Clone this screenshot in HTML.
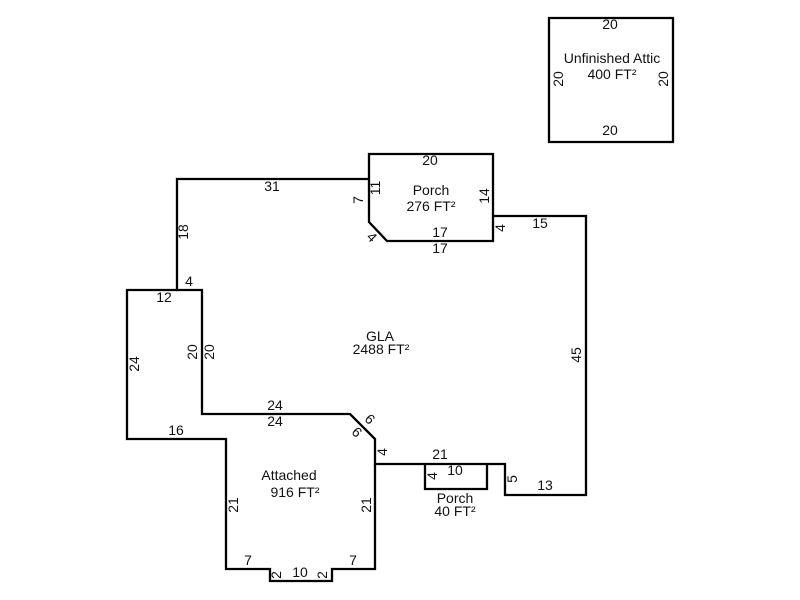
<!DOCTYPE html>
<html><head><meta charset="utf-8"><style>
html,body{margin:0;padding:0;background:#fff}
svg{display:block}
text{font-family:"Liberation Sans",Arial,sans-serif;font-size:14px;fill:#111;text-anchor:middle}
path{fill:none;stroke:#000;stroke-width:2.3;stroke-linejoin:miter}
</style></head><body>
<svg width="800" height="600" viewBox="0 0 800 600" xmlns="http://www.w3.org/2000/svg">
<path d="M549 18H673V142H549Z"/>
<path d="M369 154H493V241H387L369 222Z"/>
<path d="M369 179H177V290H202V414H350L375 439V464H505V495H586V216H493"/>
<path d="M177 290H127V439H226V569H270V581H332V569H375V464"/>
<path d="M425 464V489H487V464"/>

<text x="610" y="29">20</text>
<text x="610" y="135">20</text>
<text x="612" y="63">Unfinished Attic</text>
<text x="612" y="79">400 FT²</text>
<text transform="translate(563,79) rotate(-90)">20</text>
<text transform="translate(668,79) rotate(-90)">20</text>

<text x="430" y="165">20</text>
<text x="431" y="195">Porch</text>
<text x="431" y="211">276 FT²</text>
<text x="440" y="237">17</text>
<text x="440" y="253">17</text>
<text transform="translate(380,188) rotate(-90)">11</text>
<text transform="translate(363,200) rotate(-90)">7</text>
<text transform="translate(489,196) rotate(-90)">14</text>
<text transform="translate(505,228) rotate(-90)">4</text>
<text transform="translate(368.5,240.5) rotate(45)">4</text>

<text x="272" y="191">31</text>
<text transform="translate(188,232) rotate(-90)">18</text>
<text x="189" y="286">4</text>
<text x="164" y="302">12</text>
<text transform="translate(139,364) rotate(-90)">24</text>
<text transform="translate(197,352) rotate(-90)">20</text>
<text transform="translate(214,352) rotate(-90)">20</text>
<text x="275" y="410">24</text>
<text x="275" y="426">24</text>
<text x="176" y="435">16</text>
<text transform="translate(366.5,422.5) rotate(45)">6</text>
<text transform="translate(353.5,435.5) rotate(45)">6</text>
<text transform="translate(387,452) rotate(-90)">4</text>

<text x="380" y="341">GLA</text>
<text x="381" y="354">2488 FT²</text>
<text transform="translate(581,355) rotate(-90)">45</text>
<text x="540" y="228">15</text>
<text x="545" y="490">13</text>
<text transform="translate(517,479) rotate(-90)">5</text>

<text x="440" y="459">21</text>
<text x="455" y="475">10</text>
<text transform="translate(437,476) rotate(-90)">4</text>
<text x="455" y="503">Porch</text>
<text x="455" y="516">40 FT²</text>

<text x="289" y="480">Attached</text>
<text x="295" y="497">916 FT²</text>
<text transform="translate(238,505) rotate(-90)">21</text>
<text transform="translate(371,505) rotate(-90)">21</text>
<text x="248" y="565">7</text>
<text x="353" y="565">7</text>
<text x="300" y="577">10</text>
<text transform="translate(281,575) rotate(-90)">2</text>
<text transform="translate(327,575) rotate(-90)">2</text>
</svg>
</body></html>
